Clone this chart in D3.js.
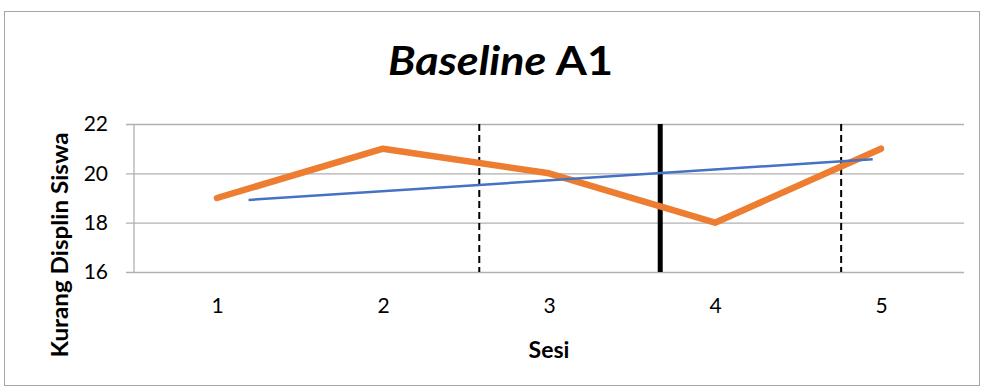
<!DOCTYPE html>
<html>
<head>
<meta charset="utf-8">
<script src="https://cdn.jsdelivr.net/npm/d3@7"></script>
<style>
  html, body { margin: 0; padding: 0; background: #fff; }
  svg { display: block; font-family: Lato, "Liberation Sans", sans-serif; }
</style>
</head>
<body>
<svg id="chart" width="983" height="389"></svg>
<script>
// ---- data ----
const sessions = [1, 2, 3, 4, 5];
const values = [19, 21, 20, 18, 21];
const yTicks = [16, 18, 20, 22];
const trendSession = [1.19, 4.95];
const trendValue = [18.92, 20.57];
const dashedPhase = [2.58, 4.76];
const solidPhase = [3.67];
const titleItalic = "Baseline";
const titleRest = " A1";
const xTitle = "Sesi";
const yTitle = "Kurang Displin Siswa";

(function () {
const FONT = "Lato, 'Liberation Sans', sans-serif";
const svg = d3.select("#chart");
const pL = 134, pR = 964, pT = 124, pB = 272;

// chart border
svg.append("rect").attr("x", 4.5).attr("y", 11.5).attr("width", 975).attr("height", 374)
  .attr("fill", "#fff").attr("stroke", "#a6a6a6").attr("stroke-width", 1);

const x = d3.scalePoint().domain(sessions).range([pL, pR]).padding(0.5);
const xLin = d3.scaleLinear().domain([0.5, 5.5]).range([pL, pR]);
const y = d3.scaleLinear().domain([16, 22]).range([pB, pT]);

// gridlines + y axis
const yAxis = d3.axisLeft(y).tickValues(yTicks).tickSize(0).tickFormat(d3.format("d"));
const gy = svg.append("g").attr("transform", `translate(${pR},0)`).call(yAxis);
gy.select(".domain").remove();
gy.selectAll(".tick line").attr("x1", 0).attr("x2", -(pR - pL) - 8).attr("stroke", "#b0b0b0").attr("stroke-width", 1.3);
gy.selectAll(".tick text").attr("x", -(pR - pL) - 26).attr("font-size", 21)
  .attr("font-family", FONT).attr("fill", "#000");

// vertical axis line
svg.append("line").attr("x1", pL).attr("x2", pL).attr("y1", y(22)).attr("y2", y(16))
  .attr("stroke", "#b0b0b0").attr("stroke-width", 1.3);

// x axis labels
const xAxis = d3.axisBottom(x).tickSize(0).tickPadding(26);
const gx = svg.append("g").attr("transform", `translate(0,${pB})`).call(xAxis);
gx.select(".domain").remove();
gx.selectAll(".tick text").attr("font-size", 21).attr("font-family", FONT).attr("fill", "#000");

// phase lines
svg.selectAll(".dashed").data(dashedPhase).enter().append("line")
  .attr("x1", d => xLin(d)).attr("x2", d => xLin(d))
  .attr("y1", y(22)).attr("y2", y(16))
  .attr("stroke", "#000").attr("stroke-width", 2).attr("stroke-dasharray", "7,4");
svg.selectAll(".solid").data(solidPhase).enter().append("line")
  .attr("x1", d => xLin(d)).attr("x2", d => xLin(d))
  .attr("y1", y(22)).attr("y2", y(16))
  .attr("stroke", "#000").attr("stroke-width", 5);

// orange data line
const line = d3.line().x((d, i) => x(sessions[i])).y(d => y(d));
svg.append("path").datum(values).attr("d", line)
  .attr("fill", "none").attr("stroke", "#ED7D31").attr("stroke-width", 6.5)
  .attr("stroke-linecap", "round").attr("stroke-linejoin", "round");

// blue trend line
svg.append("line")
  .attr("x1", xLin(trendSession[0])).attr("y1", y(trendValue[0]))
  .attr("x2", xLin(trendSession[1])).attr("y2", y(trendValue[1]))
  .attr("stroke", "#4472C4").attr("stroke-width", 2.5);

// title
const t = svg.append("text").attr("x", 388).attr("y", 75)
  .attr("font-size", 41).attr("font-weight", "bold").attr("fill", "#000")
  .attr("textLength", 225).attr("lengthAdjust", "spacingAndGlyphs");
t.append("tspan").attr("font-style", "italic").text(titleItalic);
t.append("tspan").text(titleRest);

// axis titles
svg.append("text").attr("x", 549).attr("y", 358).attr("text-anchor", "middle")
  .attr("font-size", 23).attr("font-weight", "bold").text(xTitle);
svg.append("text").attr("transform", "translate(68,245) rotate(-90)").attr("text-anchor", "middle")
  .attr("font-size", 22).attr("font-weight", "bold")
  .attr("textLength", 225).attr("lengthAdjust", "spacingAndGlyphs").text(yTitle);
})();
</script>
</body>
</html>
